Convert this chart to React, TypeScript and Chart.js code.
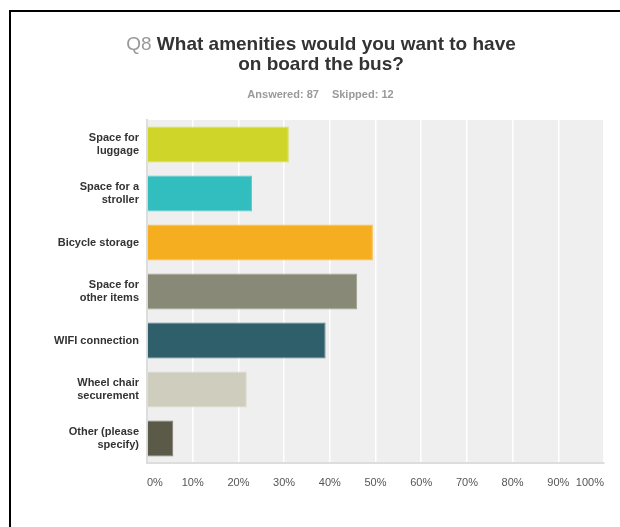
import React, { useEffect, useRef } from "react";
import { Chart, registerables } from "chart.js";

Chart.register(...registerables);

const categories: (string | string[])[] = [
  ["Space for", "luggage"],
  ["Space for a", "stroller"],
  "Bicycle storage",
  ["Space for", "other items"],
  "WIFI connection",
  ["Wheel chair", "securement"],
  ["Other (please", "specify)"],
];
const percentValues = [31.03, 22.99, 49.43, 45.98, 39.08, 21.84, 5.75];
const barColors = ["#cfd629", "#32bebf", "#f6ae21", "#888977", "#2e5f6b", "#cfcdbe", "#5b5948"];
const barBorders = ["#d9de5a", "#5ccbcc", "#f8c050", "#a0a193", "#5a7f88", "#dcdacf", "#7e7c6f"];
const xTickValues = [0, 10, 20, 30, 40, 50, 60, 70, 80, 90, 100];
const titleNumber = "Q8";
const titleLine1 = "What amenities would you want to have";
const titleLine2 = "on board the bus?";
const answeredText = "Answered: 87";
const skippedText = "Skipped: 12";

const FONT = 'Arial, "Liberation Sans", sans-serif';

const decor = {
  id: "decor",
  beforeDraw(chart: any) {
    const { ctx, chartArea: a } = chart;
    ctx.save();
    ctx.fillStyle = "#ffffff";
    ctx.fillRect(0, 0, chart.width, chart.height);
    ctx.fillStyle = "#efefef";
    ctx.fillRect(a.left, a.top, a.right - a.left, a.bottom - a.top);
    ctx.fillStyle = "#000000";
    ctx.fillRect(9, 10, chart.width - 9, 2);
    ctx.fillRect(9, 10, 2, chart.height - 10);
    ctx.restore();
  },
  afterDraw(chart: any) {
    const { ctx } = chart;
    ctx.save();
    ctx.textBaseline = "alphabetic";
    ctx.textAlign = "left";
    const cx = 321;
    // line 1
    const fNum = `19px ${FONT}`;
    const fBold = `bold 19px ${FONT}`;
    ctx.font = fNum;
    const wNum = ctx.measureText(titleNumber + " ").width;
    ctx.font = fBold;
    const w1 = ctx.measureText(titleLine1).width;
    let x = cx - (wNum + w1) / 2;
    ctx.font = fNum;
    ctx.fillStyle = "#999999";
    ctx.fillText(titleNumber, x, 50);
    ctx.font = fBold;
    ctx.fillStyle = "#333333";
    ctx.fillText(titleLine1, x + wNum, 50);
    // line 2
    const w2 = ctx.measureText(titleLine2).width;
    ctx.fillText(titleLine2, cx - w2 / 2, 70);
    // subtitle
    ctx.font = `bold 11px ${FONT}`;
    ctx.fillStyle = "#9a9a9a";
    const wa = ctx.measureText(answeredText).width;
    const ws = ctx.measureText(skippedText).width;
    const gap = 13;
    const sx = 320.5 - (wa + gap + ws) / 2;
    ctx.fillText(answeredText, sx, 98);
    ctx.fillText(skippedText, sx + wa + gap, 98);
    ctx.restore();
  },
};

export default function App() {
  const ref = useRef<HTMLCanvasElement | null>(null);
  useEffect(() => {
    if (!ref.current) return;
    const chart = new Chart(ref.current, {
      type: "bar",
      data: {
        labels: categories as any,
        datasets: [
          {
            data: percentValues,
            backgroundColor: barColors,
            borderColor: barBorders,
            borderWidth: 1,
            barPercentage: 0.735,
            categoryPercentage: 1,
          },
        ],
      },
      options: {
        indexAxis: "y",
        animation: false,
        responsive: false,
        maintainAspectRatio: false,
        layout: { padding: { top: 120, right: 16, left: 0, bottom: 0 } },
        plugins: {
          legend: { display: false },
          tooltip: { enabled: false },
          title: { display: false },
        },
        scales: {
          x: {
            type: "linear",
            min: 0,
            max: 100,
            afterBuildTicks: (scale: any) => {
              scale.ticks = xTickValues.map((v) => ({ value: v }));
            },
            afterFit: (scale: any) => {
              scale.height = 64;
            },
            grid: { display: true, color: "#ffffff", lineWidth: 1.5, drawTicks: false },
            border: { display: true, color: "#dddddd", width: 2 },
            ticks: {
              align: "inner",
              padding: 13,
              color: "#555555",
              font: { family: FONT, size: 11 },
              callback: (v: any) => `${v}%`,
            },
          },
          y: {
            type: "category",
            afterFit: (scale: any) => {
              scale.width = 147;
            },
            grid: { display: false, drawTicks: false },
            border: { display: true, color: "#dddddd", width: 2 },
            ticks: {
              padding: 8,
              color: "#333333",
              font: { family: FONT, size: 11, weight: "bold", lineHeight: 1.15 },
            },
          },
        },
      },
      plugins: [decor],
    } as any);
    return () => chart.destroy();
  }, []);
  return (
    <div style={{ position: "absolute", left: 0, top: 0, width: 620, height: 527 }}>
      <canvas ref={ref} width={620} height={527} style={{ width: 620, height: 527 }} />
    </div>
  );
}
